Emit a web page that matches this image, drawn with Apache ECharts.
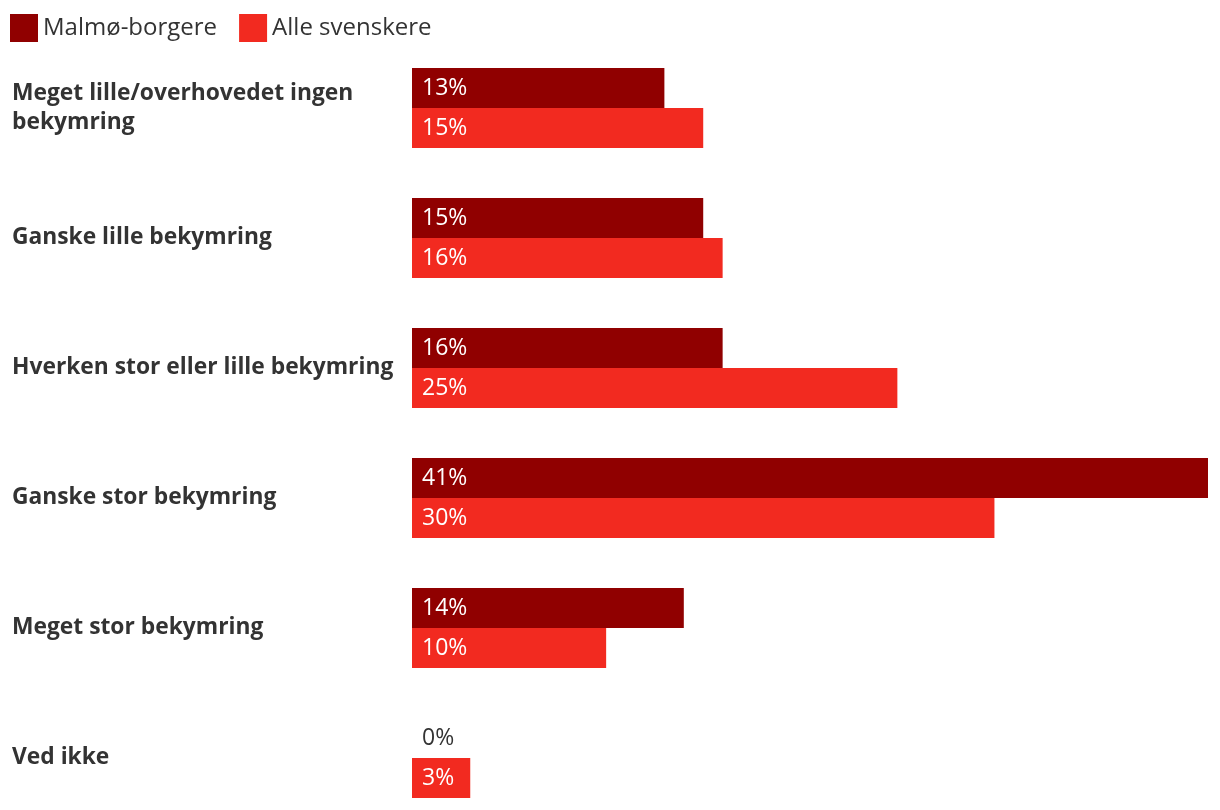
<!DOCTYPE html>
<html><head><meta charset="utf-8">
<script src="https://cdn.jsdelivr.net/npm/echarts@6/dist/echarts.min.js"></script>
<style>html,body{margin:0;padding:0;background:#fff}#c{width:1220px;height:810px}</style>
</head><body><div id="c"></div>
<script>
const categories = ["Meget lille/overhovedet ingen bekymring","Ganske lille bekymring","Hverken stor eller lille bekymring","Ganske stor bekymring","Meget stor bekymring","Ved ikke"];
const malmo = [13,15,16,41,14,0];
const alle = [15,16,25,30,10,3];
const seriesNames = ["Malmø-borgere","Alle svenskere"];
const FONT = "Open Sans";
const chart = echarts.init(document.getElementById('c'));
const lbl = {show:true, position:'insideLeft', distance:10, color:'#fff', fontSize:23, fontFamily:FONT, formatter:'{c}%'};
chart.setOption({
  animation:false,
  color:['#900000','#F22A20'],
  legend:{left:10, top:14, padding:0, itemWidth:28, itemHeight:28, itemGap:22, icon:'rect',
    textStyle:{fontSize:24, color:'#333', fontFamily:FONT}, data:seriesNames},
  grid:{left:412, width:796, top:43, height:780, containLabel:false, outerBoundsMode:'none'},
  xAxis:{type:'value', min:0, max:41, show:false},
  yAxis:{type:'category', inverse:true, data:categories,
    axisLine:{show:false}, axisTick:{show:false}, splitLine:{show:false},
    axisLabel:{align:'left', margin:400, fontSize:22.8, fontWeight:'bold', color:'#333', fontFamily:FONT,
      width:392, overflow:'break', lineHeight:29}},
  series:[
    {name:seriesNames[0], type:'bar', barWidth:40, barGap:'0%', label:lbl,
      data:malmo.map(v=> v===0 ? {value:v, label:{color:'#333'}} : v)},
    {name:seriesNames[1], type:'bar', barWidth:40, barGap:'0%', label:lbl, data:alle}
  ]
});
</script></body></html>
